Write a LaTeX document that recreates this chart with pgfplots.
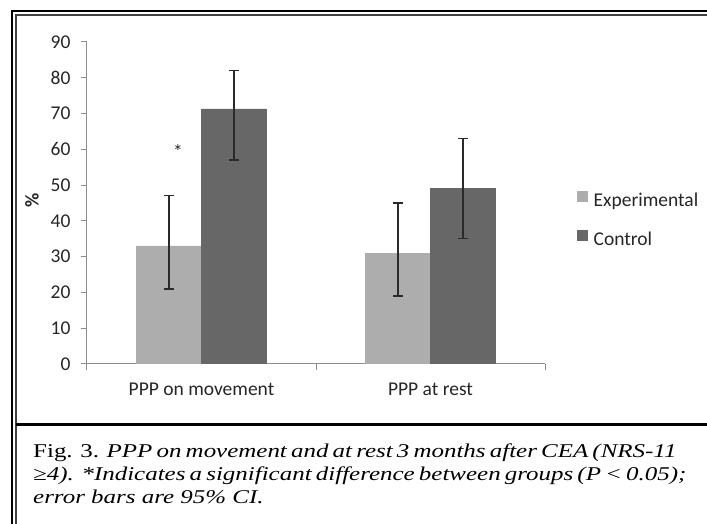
\documentclass[border=0pt]{standalone}
\usepackage{pgfplots}
\pgfplotsset{compat=1.18}
\usepackage{fontspec}
\setmainfont{Carlito}
\newfontfamily\capfont[FakeStretch=1.28]{Liberation Serif}
\definecolor{expc}{HTML}{ADADAD}
\definecolor{ctrlc}{HTML}{676767}
\definecolor{axc}{HTML}{8C8C8C}
\definecolor{errc}{HTML}{2A2A2A}
\begin{document}
\begin{tikzpicture}[x=1pt,y=1pt]
\useasboundingbox (0,0) rectangle (707,524);
\begin{scope}
\clip (0,0) rectangle (707,524);
\draw[line width=2.3pt] (12.2,-5) -- (12.2,512.8) -- (720,512.8);
\draw[line width=1.7pt, black!75] (15.8,-5) -- (15.8,509.2) -- (720,509.2);
\draw[line width=2.4pt] (15.8,99.5) -- (720,99.5);
\end{scope}
\begin{axis}[
  at={(87pt,160pt)}, anchor=south west, scale only axis,
  width=458pt, height=322pt,
  ymin=0, ymax=90, xmin=-0.5, xmax=1.5,
  axis x line*=bottom, axis y line*=left,
  x axis line style={-}, y axis line style={-},
  axis line style={axc, line width=1pt},
  ytick={0,10,...,90},
  yticklabel style={xshift=-7pt},
  xtick={-0.5,0.5,1.5}, xticklabels={},
  extra x ticks={0,1},
  extra x tick labels={PPP on movement, PPP at rest},
  extra x tick style={major tick length=0pt, xticklabel style={yshift=-15pt}},
  tick align=outside, major tick length=6pt,
  tick style={axc, line width=1pt},
  ticklabel style={font=\fontsize{19.5}{22}\selectfont, text=black!85},
  /pgf/number format/assume math mode=true,
  ybar=0pt, bar width=65pt,
  ylabel={\textbf{\%}},
  ylabel style={at={(axis description cs:-0.12,0.509)}, anchor=center, font=\fontsize{19.5}{22}\selectfont, text=black!85},
  legend cell align=left,
  legend style={at={(rel axis cs:1.07,0.4457)}, anchor=west, draw=none, fill=none,
    inner sep=0pt, font=\fontsize{19.5}{22}\selectfont, text=black!85,
    row sep=20pt, /tikz/column sep=6pt,
    nodes={inner sep=0pt, text height=12pt, text depth=4pt}},
]
\addplot[fill=expc, draw=expc, forget plot, bar shift=-32.5pt,
  error bars/.cd, y dir=both, y explicit, error mark=|,
  error bar style={line width=1.3pt, errc},
  error mark options={line width=1.3pt, errc, mark size=5pt}]
  coordinates {(0,33) += (0,14) -= (0,12) (1,31) += (0,14) -= (0,12)};
\addplot[fill=ctrlc, draw=ctrlc, forget plot, bar shift=32.5pt,
  error bars/.cd, y dir=both, y explicit, error mark=|,
  error bar style={line width=1.3pt, errc},
  error mark options={line width=1.3pt, errc, mark size=5pt}]
  coordinates {(0,71.3) += (0,10.7) -= (0,14.3) (1,49) += (0,14) -= (0,14)};
\addlegendimage{legend image code/.code={\fill[expc] (0pt,1.5pt) rectangle (10pt,11pt);}}
\addlegendentry{Experimental}
\addlegendimage{legend image code/.code={\fill[ctrlc] (0pt,1.5pt) rectangle (10pt,11pt);}}
\addlegendentry{Control}
\node[font=\fontsize{19.5}{22}\selectfont, text=black!85, inner sep=0pt] at (axis cs:-0.103,59.5) {*};
\end{axis}
\node[anchor=base west, inner sep=0pt, text=black] at (33,66) {\capfont\fontsize{19.5}{22}\selectfont\makebox[632pt][s]{Fig. 3. \itshape PPP on movement and at rest 3 months after CEA (NRS-11}};
\node[anchor=base west, inner sep=0pt, text=black] at (33,43) {\capfont\fontsize{19.5}{22}\selectfont\makebox[635pt][s]{\itshape ≥4). *Indicates a significant difference between groups (P < 0.05);}};
\node[anchor=base west, inner sep=0pt, text=black] at (33,20) {\capfont\fontsize{19.5}{22}\selectfont\itshape error bars are 95\% CI.};
\end{tikzpicture}
\end{document}
